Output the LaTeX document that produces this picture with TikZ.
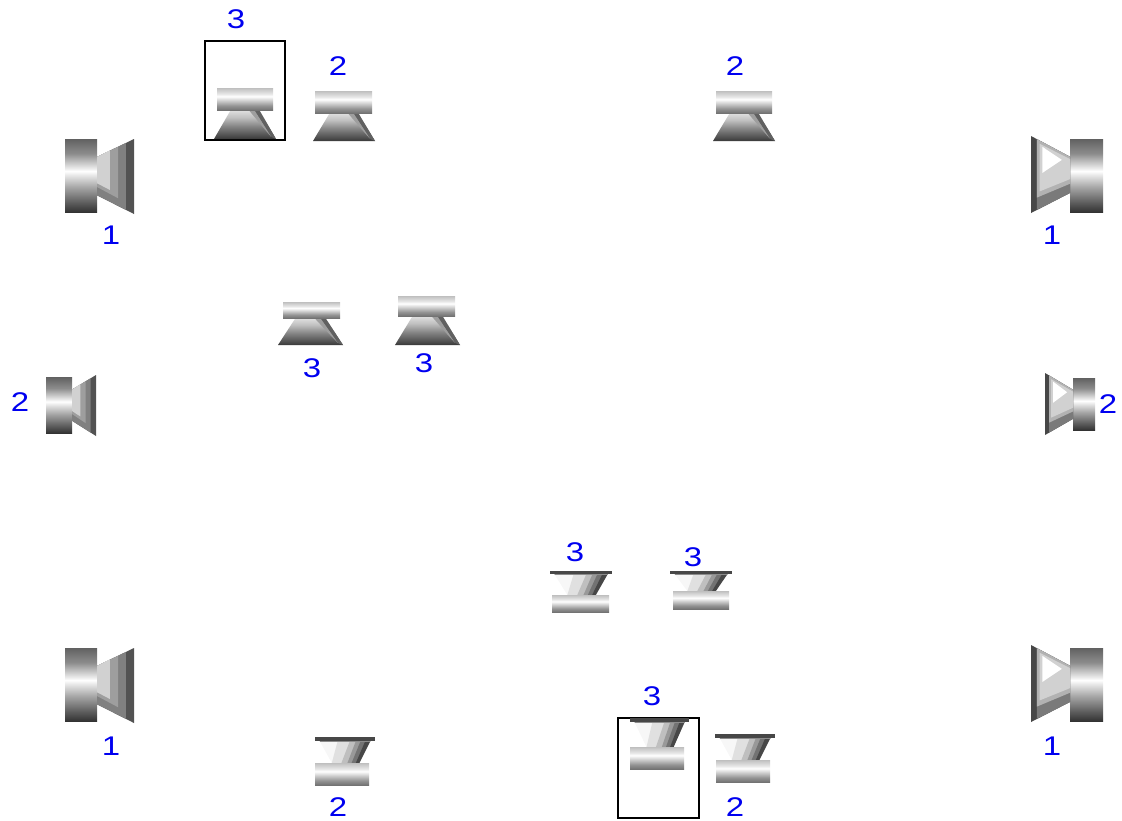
\documentclass[tikz,border=0pt]{standalone}
\usepackage{fontspec}
\setmainfont{Liberation Sans}
\pgfdeclareverticalshading{cylsh}{100bp}{color(0bp)=(black!80); color(25bp)=(black!80); color(32bp)=(black!62); color(42bp)=(black!35); color(50bp)=(black!10); color(53bp)=(white); color(55bp)=(black!8); color(65bp)=(black!45); color(75bp)=(black!62); color(100bp)=(black!62)}
\pgfdeclareverticalshading{barsh}{100bp}{color(0bp)=(black!55); color(25bp)=(black!55); color(35bp)=(black!42); color(47bp)=(black!18); color(56bp)=(white); color(62bp)=(black!10); color(75bp)=(black!25); color(100bp)=(black!25)}
\pgfdeclareverticalshading{conesh}{100bp}{color(0bp)=(black!78); color(25bp)=(black!78); color(32bp)=(black!68); color(47bp)=(black!48); color(62bp)=(black!25); color(75bp)=(black!12); color(100bp)=(black!12)}
\tikzset{lbl/.style={text=lblblue,inner sep=0pt,font=\fontsize{27}{27}\selectfont},
 framebox/.style={draw=black,line width=2.2pt}}
\definecolor{lblblue}{RGB}{0,0,240}
% up valve: bar x1,x2,y1,y2 ; cone x1,x2,ybase
\newcommand{\upvalve}[7]{%
 \begin{scope}[shift={(#5,#4)},xscale={#6-#5},yscale={#7-#4}]
  \shade[shading=conesh] (0,1)--(.27,0)--(.73,0)--(1,1)--cycle;
  \fill[black!62] (.64,0)--(.73,0)--(1,1)--(.93,.93)--cycle;
  \fill[black!38] (.56,0)--(.65,0)--(.92,.92)--(.8,.62)--cycle;
 \end{scope}
 \shade[shading=barsh] (#1,#3) rectangle (#2,#4);
}
% down valve: plate x1,x2,y ; cone base y ; bar x1,x2,y2
\newcommand{\downvalve}[7]{%
 \begin{scope}[shift={(#1,#3)},xscale={#2-#1},yscale={#4-#3}]
  \begin{scope}
   \clip (.05,0)--(.95,0)--(.74,1)--(.28,1)--cycle;
   \fill[black!3] (0,0) rectangle (1,1);
   \fill[black!12] (.38,.1)--(.6,.1)--(.46,1)--(.28,1)--cycle;
   \fill[black!25] (.6,0)--(.72,0)--(.56,1)--(.44,1)--cycle;
   \fill[black!40] (.7,0)--(.8,0)--(.63,1)--(.54,1)--cycle;
   \fill[black!55] (.78,0)--(.88,0)--(.7,1)--(.61,1)--cycle;
   \fill[black!72] (.86,0)--(1,0)--(.8,1)--(.68,1)--cycle;
   \fill[black!45] (0,0) rectangle (1,.14);
  \end{scope}
  \fill[black!72] (0,-.03) rectangle (1,.1);
 \end{scope}
 \shade[shading=barsh] (#5,#4) rectangle (#6,#7);
}
% horn toward the right of the cylinder
\newcommand{\hornL}[7]{%
 \shade[shading=cylsh] (#1,#3) rectangle (#2,#4);
 \begin{scope}[shift={(#2,#6)},xscale={#5-#2},yscale={#7-#6}]
  \fill[black!68] (0,.24)--(1,0)--(1,1)--(0,.75)--cycle;
  \fill[black!50] (0,.24)--(.78,.053)--(.78,.945)--(0,.75)--cycle;
  \fill[black!38] (0,.24)--(.57,.103)--(.57,.79)--(0,.64)--cycle;
  \fill[black!18] (0,.24)--(.35,.15)--(.35,.68)--(0,.59)--cycle;
 \end{scope}
}
% horn toward the left of the cylinder
\newcommand{\hornR}[7]{%
 \shade[shading=cylsh] (#1,#3) rectangle (#2,#4);
 \begin{scope}[shift={(#1,#6)},xscale={#5-#1},yscale={#7-#6}]
  \fill[black!72] (0,.27)--(1,0)--(1,1)--(0,.74)--cycle;
  \fill[black!52] (0,.27)--(.85,.04)--(.85,.96)--(0,.74)--cycle;
  \fill[black!30] (0,.27)--(.85,.04)--(.85,.8)--(0,.62)--cycle;
  \fill[black!18] (0,.3)--(.78,.1)--(.78,.72)--(0,.56)--cycle;
  \fill[white] (.71,.14)--(.21,.31)--(.71,.48)--cycle;
 \end{scope}
}
\begin{document}
\begin{tikzpicture}[x=1pt,y=-1pt]
\useasboundingbox (0,0) rectangle (1122,820);
\draw[framebox] (205,41) rectangle (285,140);
\draw[framebox] (618,718) rectangle (699,818);
% speakers
\hornL{65}{97}{139}{212}{134}{139}{214}
\hornL{65}{97}{648}{721}{134}{648}{723}
\hornL{46}{72}{377}{433}{96}{375}{436}
\hornR{1070}{1103}{139}{212}{1031}{136}{213}
\hornR{1070}{1103}{648}{721}{1031}{645}{722}
\hornR{1073}{1095}{378}{430}{1045}{373}{435}
% up valves
\upvalve{217}{273}{88}{110}{214}{276}{139}
\upvalve{315}{372}{91}{113}{313}{375}{141}
\upvalve{716}{772}{91}{113}{713}{775}{141}
\upvalve{283}{340}{302}{318}{278}{343}{345}
\upvalve{398}{455}{296}{316}{395}{460}{345}
% down valves
\downvalve{630}{689}{719}{747}{630}{684}{769}
\downvalve{715}{775}{735}{760}{716}{770}{782}
\downvalve{315}{375}{738}{763}{315}{369}{785}
\downvalve{550}{612}{572}{595}{552}{609}{612}
\downvalve{670}{732}{572}{591}{673}{729}{609}
% labels
\node[lbl] (la) at (236,19) {\scalebox{1.22}[1]{3}};
\node[lbl] (lb) at (338,66) {\scalebox{1.22}[1]{2}};
\node[lbl] (lc) at (735,66) {\scalebox{1.22}[1]{2}};
\node[lbl] (ld) at (111,235) {\scalebox{1.22}[1]{1}};
\node[lbl] (le) at (1052,235) {\scalebox{1.22}[1]{1}};
\node[lbl] (lf) at (312,368) {\scalebox{1.22}[1]{3}};
\node[lbl] (lg) at (424,363) {\scalebox{1.22}[1]{3}};
\node[lbl] (lh) at (20,402) {\scalebox{1.22}[1]{2}};
\node[lbl] (li) at (1108,404) {\scalebox{1.22}[1]{2}};
\node[lbl] (lj) at (575,552) {\scalebox{1.22}[1]{3}};
\node[lbl] (lk) at (693,557) {\scalebox{1.22}[1]{3}};
\node[lbl] (ll) at (111,746) {\scalebox{1.22}[1]{1}};
\node[lbl] (lm) at (1052,746) {\scalebox{1.22}[1]{1}};
\node[lbl] (ln) at (652,696) {\scalebox{1.22}[1]{3}};
\node[lbl] (lo) at (338,807) {\scalebox{1.22}[1]{2}};
\node[lbl] (lp) at (735,807) {\scalebox{1.22}[1]{2}};
\end{tikzpicture}
\end{document}
